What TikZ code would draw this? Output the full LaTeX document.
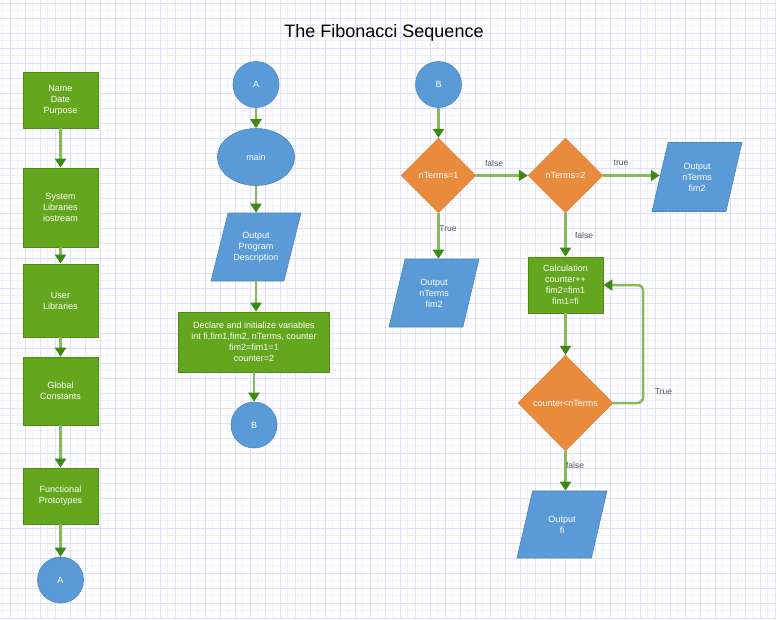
\documentclass[tikz,border=0pt]{standalone}
\usepackage{fontspec}
\setmainfont{Liberation Sans}
\usepackage{xcolor}
\usetikzlibrary{arrows.meta,shapes.geometric,positioning}
\definecolor{boxgreen}{HTML}{64A71F}
\definecolor{boxedge}{HTML}{4B8A14}
\definecolor{flowblue}{HTML}{5A9AD6}
\definecolor{blueedge}{HTML}{4A86C2}
\definecolor{floworange}{HTML}{E98B3C}
\definecolor{orangeedge}{HTML}{D97A2C}
\definecolor{linegreen}{HTML}{86BB5C}
\definecolor{tipgreen}{HTML}{3C8A10}
\definecolor{gridmaj}{HTML}{E0E0FA}
\definecolor{gridmin}{HTML}{EFEFFC}
\definecolor{labelgray}{HTML}{555555}

\begin{document}
\begin{tikzpicture}[x=1pt,y=-1pt,
  boxtext/.style={text=white,align=center,font=\fontsize{9}{11}\selectfont,inner sep=1pt},
  procbox/.style={boxtext,rectangle,fill=boxgreen,draw=boxedge,line width=0.8pt,minimum width=75pt},
  termcirc/.style={boxtext,circle,fill=flowblue,draw=blueedge,line width=0.6pt,minimum size=46pt},
  startoval/.style={boxtext,ellipse,fill=flowblue,draw=blueedge,line width=0.6pt,minimum width=77pt,minimum height=57pt},
  iobox/.style={boxtext,trapezium,trapezium left angle=62,trapezium right angle=118,trapezium stretches body,
    fill=flowblue,draw=blueedge,line width=0.6pt,minimum width=90pt,minimum height=68pt},
  decide/.style={boxtext,diamond,fill=floworange,draw=orangeedge,line width=0.4pt,minimum width=75pt,minimum height=75pt},
  flow/.style={draw=linegreen,line width=2.5pt,-{Triangle[length=9pt,width=11pt,color=tipgreen]}},
  flowlabel/.style={text=labelgray,font=\fontsize{8.5}{10}\selectfont,inner sep=0pt}]
  % paper and grid
  \useasboundingbox (0,0) rectangle (776,619);
  \fill[white] (0,0) rectangle (776,619);
  \foreach \gx in {2.5,17.5,...,775} \draw[gridmin,line width=0.6pt] (\gx,0) -- (\gx,619);
  \foreach \gy in {10.5,25.5,...,619} \draw[gridmin,line width=0.6pt] (0,\gy) -- (776,\gy);
  \foreach \gx in {10,25,...,775} \draw[gridmaj,line width=1pt] (\gx,0) -- (\gx,619);
  \foreach \gy in {3,18,...,619} \draw[gridmaj,line width=1pt] (0,\gy) -- (776,\gy);

  \node[font=\fontsize{18}{20}\selectfont] (title) at (384,33) {The Fibonacci Sequence};

  % header column
  \node[procbox,minimum height=56pt] (header) at (60.5,100) {Name\\Date\\Purpose};
  \node[procbox,minimum height=79pt] (syslib) at (60.5,207.5) {System\\Libraries\\iostream};
  \node[procbox,minimum height=73pt] (userlib) at (60.5,300.5) {User\\Libraries};
  \node[procbox,minimum height=68pt] (globals) at (60.5,391) {Global\\Constants};
  \node[procbox,minimum height=56pt] (protos) at (60.5,496) {Functional\\Prototypes};
  \node[termcirc] (endA) at (60.5,580) {A};
  \draw[flow] (header) -- (syslib);
  \draw[flow] (syslib) -- (userlib);
  \draw[flow] (userlib) -- (globals);
  \draw[flow] (globals) -- (protos);
  \draw[flow] (protos) -- (endA);

  % main
  \node[termcirc] (startA) at (256,84.5) {A};
  \node[startoval] (main) at (256,157) {main};
  \node[iobox] (describe) at (256,247) {Output\\Program\\Description};
  \node[procbox,minimum width=151pt,minimum height=60pt] (declare) at (254,342)
    {Declare and initialize variables\\int fi,fim1,fim2, nTerms, counter\\fim2=fim1=1\\counter=2};
  \node[termcirc] (endB) at (254,425) {B};
  \draw[flow] (startA) -- (main);
  \draw[flow] (main) -- (describe);
  \draw[flow] (describe.south) -- (describe.south |- declare.north);
  \draw[flow] (declare) -- (endB);

  % sequence
  \node[termcirc] (startB) at (438.5,84.5) {B};
  \node[decide] (isone) at (438.5,175.5) {nTerms=1};
  \node[decide] (istwo) at (565.5,175.5) {nTerms=2};
  \node[iobox,minimum height=69pt] (outtwo) at (697,177) {Output\\nTerms\\fim2};
  \node[iobox] (outone) at (434,293) {Output\\nTerms\\fim2};
  \node[procbox,minimum height=56pt] (calc) at (565.5,285) {Calculation\\counter++\\fim2=fim1\\fim1=fi};
  \node[decide,minimum width=95pt,minimum height=96pt] (loop) at (565.5,403) {counter<nTerms};
  \node[iobox,trapezium left angle=51,trapezium right angle=129,minimum height=67pt] (outfi) at (562,524.5) {Output\\fi};
  \draw[flow] (startB) -- (isone);
  \draw[flow] (isone) -- (istwo);
  \draw[flow] (istwo.east) -- (istwo.east -| outtwo.west);
  \draw[flow] (isone.south) -- (isone.south |- outone.north);
  \draw[flow] (istwo) -- (calc);
  \draw[flow] (calc) -- (loop);
  \draw[flow,rounded corners=6pt] (loop.east) -- ++(30,0) |- (calc.east);
  \draw[flow] (loop.south) -- (loop.south |- outfi.north);
  \node[flowlabel] (lblfalseA) at (494,163) {false};
  \node[flowlabel] (lbltrueA) at (621,163) {true};
  \node[flowlabel] (lbltrueB) at (448,229) {True};
  \node[flowlabel] (lblfalseB) at (584,235) {false};
  \node[flowlabel] (lbltrueC) at (663.5,392) {True};
  \node[flowlabel] (lblfalseC) at (575,465) {false};
\end{tikzpicture}
\end{document}
